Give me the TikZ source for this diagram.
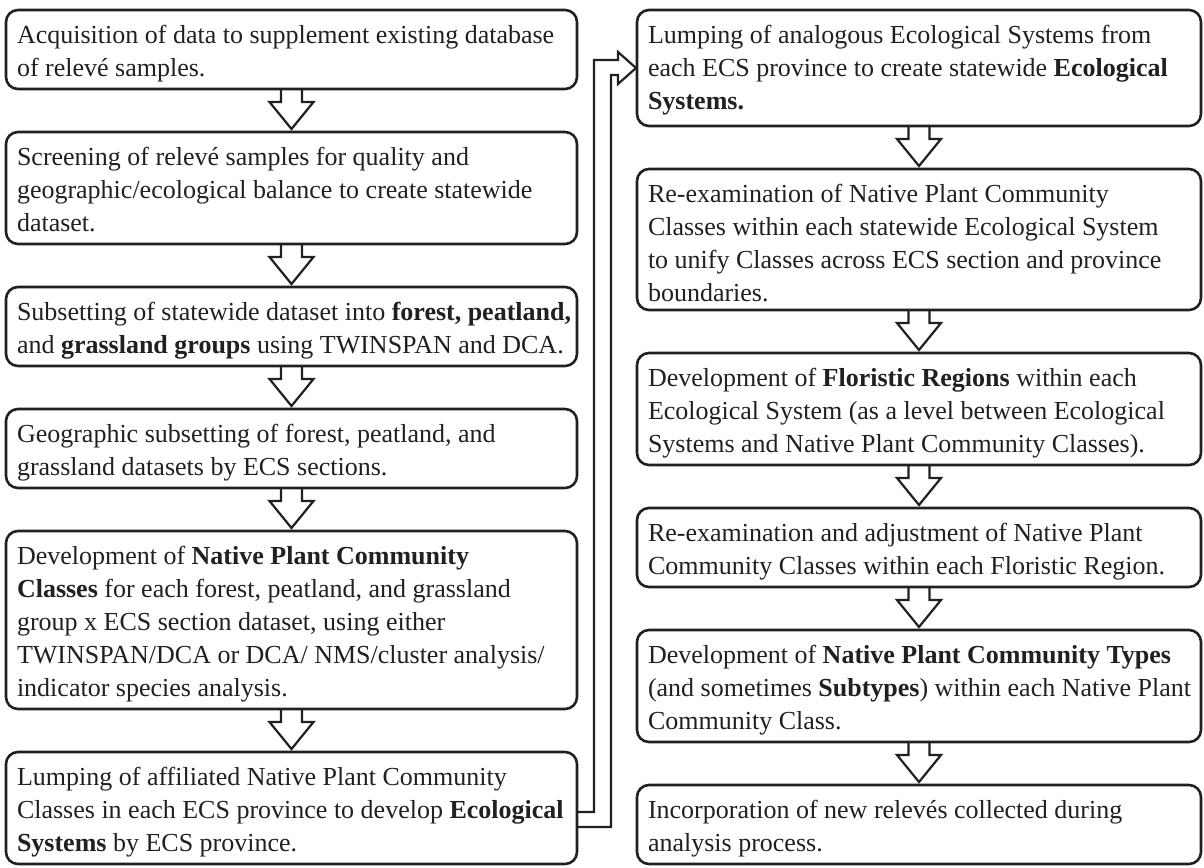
\documentclass[tikz,border=0pt]{standalone}
\usepackage{fontspec}
\setmainfont{Liberation Serif}
\usetikzlibrary{calc}
\definecolor{ink}{HTML}{231F20}
\newcommand\stagetext[3]{\parbox[c][#1pt][t]{#2pt}{\vspace*{10pt}\strut #3}}
\newcommand\downblock[2]{%
  \draw[conn] ($(#1.south)+(-10.5,0)$) -- ($(#1.south)+(-10.5,13)$) -- ($(#1.south)+(-22,13)$)
    -- ($(#2.north)+(0,-3)$) -- ($(#1.south)+(22,13)$) -- ($(#1.south)+(10.5,13)$) -- ($(#1.south)+(10.5,0)$);}
\begin{document}
\begin{tikzpicture}[x=1pt,y=-1pt,
  stage/.style={draw=ink, line width=2.6pt, rounded corners=12pt, inner xsep=11pt, inner ysep=0pt,
    outer sep=0pt, anchor=north west, text=ink, font=\fontsize{26}{33}\selectfont},
  conn/.style={draw=ink, line width=2.2pt, line join=miter}]
\useasboundingbox (0,0) rectangle (1204,867);
% left column
\node[stage] (L1) at (6,10) {\stagetext{79}{549}{\mbox{Acquisition of data to supplement existing database}\\\mbox{of relev\'e samples.}}};
\node[stage] (L2) at (6,132) {\stagetext{112}{549}{\mbox{Screening of relev\'e samples for quality and}\\\mbox{geographic/ecological balance to create statewide}\\\mbox{dataset.}}};
\node[stage] (L3) at (6,287) {\stagetext{79}{549}{\mbox{Subsetting of statewide dataset into \textbf{forest, peatland,}}\\\mbox{and \textbf{grassland groups} using TWINSPAN and DCA.}}};
\node[stage] (L4) at (6,409) {\stagetext{79}{549}{\mbox{Geographic subsetting of forest, peatland, and}\\\mbox{grassland datasets by ECS sections.}}};
\node[stage] (L5) at (6,531) {\stagetext{178}{549}{\mbox{Development of \textbf{Native Plant Community}}\\\mbox{\textbf{Classes} for each forest, peatland, and grassland}\\\mbox{group x ECS section dataset, using either}\\\mbox{TWINSPAN/DCA or DCA/ NMS/cluster analysis/}\\\mbox{indicator species analysis.}}};
\node[stage] (L6) at (6,752) {\stagetext{112}{549}{\mbox{Lumping of affiliated Native Plant Community}\\\mbox{Classes in each ECS province to develop \textbf{Ecological}}\\\mbox{\textbf{Systems} by ECS province.}}};
% right column
\node[stage] (R1) at (637,10) {\stagetext{116}{542}{\mbox{Lumping of analogous Ecological Systems from}\\\mbox{each ECS province to create statewide \textbf{Ecological}}\\\mbox{\textbf{Systems.}}}};
\node[stage] (R2) at (637,169) {\stagetext{141}{542}{\mbox{Re-examination of Native Plant Community}\\\mbox{Classes within each statewide Ecological System}\\\mbox{to unify Classes across ECS section and province}\\\mbox{boundaries.}}};
\node[stage] (R3) at (637,353) {\stagetext{112}{542}{\mbox{Development of \textbf{Floristic Regions} within each}\\\mbox{Ecological System (as a level between Ecological}\\\mbox{Systems and Native Plant Community Classes).}}};
\node[stage] (R4) at (637,508) {\stagetext{79}{542}{\mbox{Re-examination and adjustment of Native Plant}\\\mbox{Community Classes within each Floristic Region.}}};
\node[stage] (R5) at (637,630) {\stagetext{112}{542}{\mbox{Development of \textbf{Native Plant Community Types}}\\\mbox{(and sometimes \textbf{Subtypes}) within each Native Plant}\\\mbox{Community Class.}}};
\node[stage] (R6) at (637,785) {\stagetext{79}{542}{\mbox{Incorporation of new relev\'es collected during}\\\mbox{analysis process.}}};
% down arrows
\downblock{L1}{L2}
\downblock{L2}{L3}
\downblock{L3}{L4}
\downblock{L4}{L5}
\downblock{L5}{L6}
\downblock{R1}{R2}
\downblock{R2}{R3}
\downblock{R3}{R4}
\downblock{R4}{R5}
\downblock{R5}{R6}
% connector from left column to right column
\coordinate (tip) at ($(R1.west)+(-1,0)$);
\coordinate (a0) at ($(L6.east)+(0,4)$);
\coordinate (b0) at ($(L6.east)+(0,19)$);
\draw[conn] (a0) -- ($(a0)+(17,0)$) |- ($(tip)+(-18,-8)$) -- ($(tip)+(-18,-16)$) -- (tip)
  -- ($(tip)+(-18,16)$) -- ($(tip)+(-18,7)$) -| ($(b0)+(34,0)$) -- (b0);
\end{tikzpicture}
\end{document}
